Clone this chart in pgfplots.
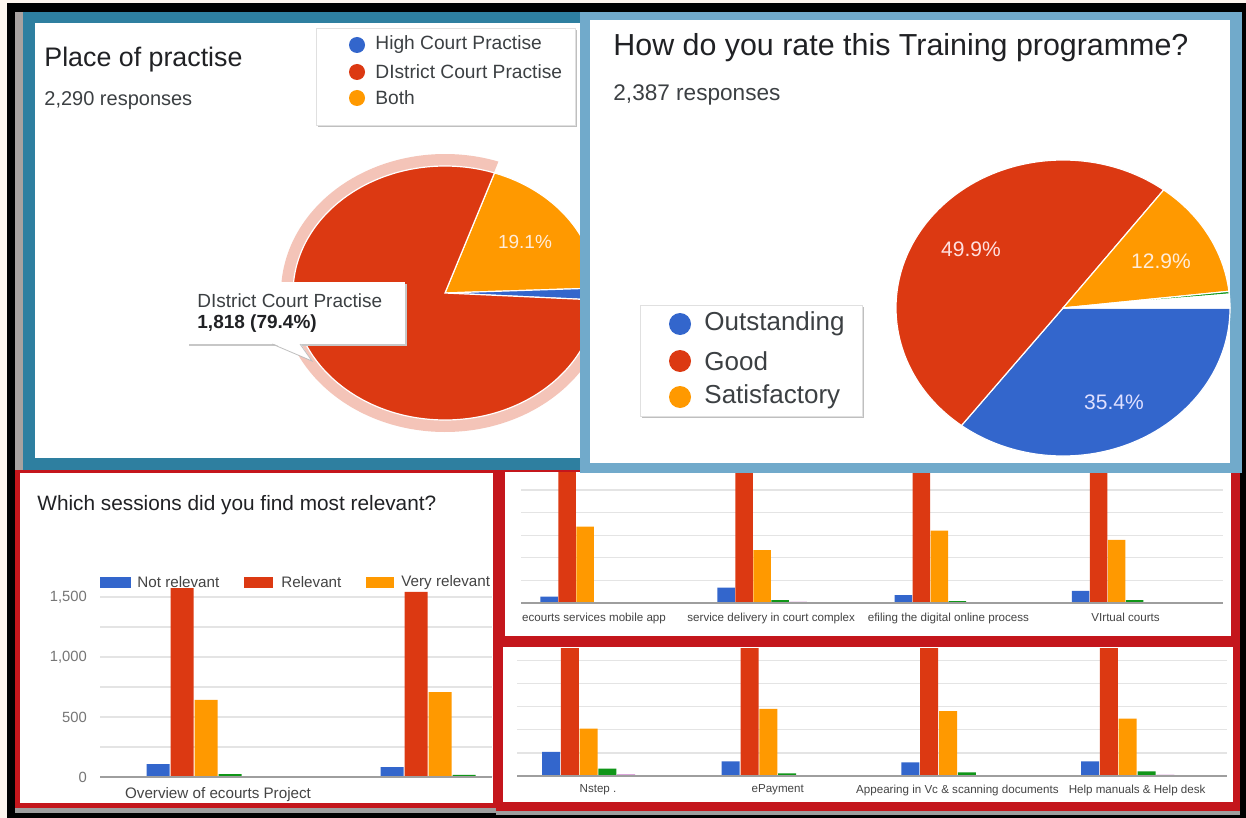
\documentclass[border=0pt]{standalone}
\usepackage{pgfplots}
\pgfplotsset{compat=1.18}
\usepackage{pgfplotstable}
\usepackage{fontspec}
\setmainfont{Liberation Sans}
\definecolor{gblue}{HTML}{3366CC}
\definecolor{gred}{HTML}{DC3912}
\definecolor{gorange}{HTML}{FF9900}
\definecolor{ggreen}{HTML}{109618}
\definecolor{gpurple}{HTML}{990099}
\definecolor{gteal}{HTML}{0099C6}
\definecolor{cream}{HTML}{FDF5EE}
\definecolor{tealb}{HTML}{2E7FA0}
\definecolor{lblue}{HTML}{71AACB}
\definecolor{redb}{HTML}{C4161C}
\definecolor{halo}{HTML}{F4C4B8}
\definecolor{titc}{HTML}{202124}
\definecolor{subc}{HTML}{3C4043}
\definecolor{gridc}{HTML}{E4E4E4}
\definecolor{basec}{HTML}{9E9E9E}
\definecolor{tickc}{HTML}{757575}
\definecolor{labc}{HTML}{444444}
\definecolor{shad}{HTML}{A8A2A0}
\newcommand{\fs}[1]{\fontsize{#1}{#1}\selectfont}

% Which sessions did you find most relevant? (columns: Not relevant, Relevant, Very relevant, and three small series)
\pgfplotstableread{
x nr r vr g p t
0 108 1575 642 25 5 3
1 83 1542 708 17 5 3
}\dataA
\pgfplotstableread{
x nr r vr g p t
0 70 1560 844 5 3 5
1 170 1560 586 33 12 4
2 88 1560 800 22 4 6
3 133 1560 697 33 5 5
}\dataB
\pgfplotstableread{
x nr r vr g p t
0 260 1550 512 79 14 5
1 159 1550 727 29 8 6
2 148 1550 703 40 6 5
3 159 1550 620 51 12 8
}\dataC

% pie shares (percent)
\def\pBoth{19.1}\def\pHigh{1.5}\def\pDist{79.4}
\def\pOut{35.4}\def\pGood{49.9}\def\pSat{12.9}\def\pFour{0.3}\def\pFive{1.5}
\pgfmathsetmacro\lA{71}
\pgfmathsetmacro\lB{\lA-3.6*\pBoth}
\pgfmathsetmacro\lC{\lB-3.6*\pHigh}
\pgfmathsetmacro\lD{\lC-3.6*\pDist}
\pgfmathsetmacro\rA{0}
\pgfmathsetmacro\rB{\rA-3.6*\pOut}
\pgfmathsetmacro\rC{\rB-3.6*\pGood}
\pgfmathsetmacro\rD{\rC-3.6*\pSat}
\pgfmathsetmacro\rE{\rD-3.6*\pFour}
\pgfmathsetmacro\rF{\rE-3.6*\pFive}

\pgfplotsset{
  gbars/.style={ybar, scale only axis, anchor=south west,
    axis line style={draw=none}, tick style={draw=none},
    ymin=0, ymajorgrids, grid style={color=gridc, line width=0.6pt},
    enlargelimits=false, xtick={0,1,2,3},
    xticklabel style={text=labc}},
  pieax/.style={hide axis, scale only axis, clip=false, anchor=center,
    xmin=-1, xmax=1, ymin=-1, ymax=1}
}
\tikzset{sl/.style={fill=#1, draw=white, line width=0.6pt}}

\begin{document}
\begin{tikzpicture}
\begin{scope}[x=0.5pt,y=-0.5pt]
  \fill[cream] (0,0) rectangle (1246,818);
  \fill[black] (7,3) rectangle (1246,818);
  % bottom-left panel
  \fill[basec] (15,806) rectangle (498,813);
  \fill[redb] (15,469) rectangle (498,808);
  \fill[white] (20,473) rectangle (493,803);
  \node[anchor=west, text=titc, font=\fs{10.4}, inner sep=0] at (37,505) {Which sessions did you find most relevant?};
  \fill[gblue] (100,577) rectangle (131,588);
  \node[anchor=west, text=labc, font=\fs{7.6}, inner sep=0] at (137,582.5) {Not relevant};
  \fill[gred] (244,577) rectangle (273,588);
  \node[anchor=west, text=labc, font=\fs{7.6}, inner sep=0] at (281,582.5) {Relevant};
  \fill[gorange] (366,577) rectangle (394,588);
  \node[anchor=west, text=labc, font=\fs{7.6}, inner sep=0] at (401,582.5) {Very relevant};
\end{scope}

\begin{axis}[gbars, at={(50pt,-388.5pt)}, width=196pt, height=99pt,
  xmin=-0.5043, xmax=1.1709, ymax=1650, bar width=11.5pt,
  ytick={0,500,1000,1500}, yticklabels={0,500,{1,000},{1,500}},
  minor ytick={250,750,1250}, yminorgrids, minor grid style={color=gridc, line width=0.6pt},
  yticklabel style={font=\fs{7.4}, text=tickc, xshift=-3pt},
  xticklabels={Overview of ecourts Project,{}}, xticklabel style={font=\fs{7.6}, yshift=2.5pt}]
\addplot[fill=gblue, draw=none, bar shift=-30pt] table[x=x,y=nr]{\dataA};
\addplot[fill=gred, draw=none, bar shift=-18pt] table[x=x,y=r]{\dataA};
\addplot[fill=gorange, draw=none, bar shift=-6pt] table[x=x,y=vr]{\dataA};
\addplot[fill=ggreen, draw=none, bar shift=6pt] table[x=x,y=g]{\dataA};
\addplot[fill=gpurple, draw=none, bar shift=18pt] table[x=x,y=p]{\dataA};
\addplot[fill=gteal, draw=none, bar shift=30pt] table[x=x,y=t]{\dataA};
\draw[basec, line width=0.7pt] (rel axis cs:0,0) -- (rel axis cs:1,0);
\end{axis}

\begin{scope}[x=0.5pt,y=-0.5pt]
  \fill[redb] (496,469) rectangle (1240,644);
  \fill[white] (505,472) rectangle (1231,636);
\end{scope}
\begin{axis}[gbars, at={(260.5pt,-301.5pt)}, width=351pt, height=65.5pt,
  xmin=-0.412, xmax=3.5497, ymax=1449, bar width=8.75pt,
  ytick={250,500,750,1000,1250}, yticklabels={},
  xticklabels={ecourts services mobile app, service delivery in court complex, efiling the digital online process, VIrtual courts},
  xticklabel style={font=\fs{5.8}, yshift=3pt}]
\addplot[fill=gblue, draw=none, bar shift=-22.5pt] table[x=x,y=nr]{\dataB};
\addplot[fill=gred, draw=none, bar shift=-13.5pt] table[x=x,y=r]{\dataB};
\addplot[fill=gorange, draw=none, bar shift=-4.5pt] table[x=x,y=vr]{\dataB};
\addplot[fill=ggreen, draw=none, bar shift=4.5pt] table[x=x,y=g]{\dataB};
\addplot[fill=gpurple, draw=none, bar shift=13.5pt] table[x=x,y=p]{\dataB};
\addplot[fill=gteal, draw=none, bar shift=22.5pt] table[x=x,y=t]{\dataB};
\draw[basec, line width=0.7pt] (rel axis cs:0,0) -- (rel axis cs:1,0);
\end{axis}

\begin{scope}[x=0.5pt,y=-0.5pt]
  \fill[basec] (496,809) rectangle (1240,815);
  \fill[redb] (496,640) rectangle (1240,811);
  \fill[white] (503,647) rectangle (1233,802);
\end{scope}
\begin{axis}[gbars, at={(258.5pt,-388pt)}, width=355pt, height=64pt,
  xmin=-0.4508, xmax=3.5003, ymax=1385, bar width=9pt,
  ytick={250,500,750,1000,1250}, yticklabels={},
  xticklabels={Nstep ., ePayment, Appearing in Vc \& scanning documents, Help manuals \& Help desk},
  xticklabel style={font=\fs{5.8}, yshift=3.5pt}]
\addplot[fill=gblue, draw=none, bar shift=-23.5pt] table[x=x,y=nr]{\dataC};
\addplot[fill=gred, draw=none, bar shift=-14.1pt] table[x=x,y=r]{\dataC};
\addplot[fill=gorange, draw=none, bar shift=-4.7pt] table[x=x,y=vr]{\dataC};
\addplot[fill=ggreen, draw=none, bar shift=4.7pt] table[x=x,y=g]{\dataC};
\addplot[fill=gpurple, draw=none, bar shift=14.1pt] table[x=x,y=p]{\dataC};
\addplot[fill=gteal, draw=none, bar shift=23.5pt] table[x=x,y=t]{\dataC};
\draw[basec, line width=0.7pt] (rel axis cs:0,0) -- (rel axis cs:1,0);
\end{axis}

% top-left panel
\begin{scope}[x=0.5pt,y=-0.5pt]
  \fill[shad] (15,12) rectangle (23,470);
  \fill[tealb] (23,12) rectangle (585,470);
  \fill[white] (35,23) rectangle (580,458);
  \node[anchor=west, text=titc, font=\fs{13.4}, inner sep=0] at (44,60) {Place of practise};
  \node[anchor=west, text=subc, font=\fs{10}, inner sep=0] at (44,101) {2,290 responses};
  \fill[black!25] (318,30) rectangle (577,127);
  \fill[white] (316,28) rectangle (575,125);
  \draw[black!12] (316,28) rectangle (575,125);
  \fill[gblue] (357,45) circle[radius=8];
  \fill[gred] (357,72) circle[radius=8];
  \fill[gorange] (357,98) circle[radius=8];
  \node[anchor=west, text=subc, font=\fs{9.6}, inner sep=0] at (375,45) {High Court Practise};
  \node[anchor=west, text=subc, font=\fs{9.6}, inner sep=0] at (375,72) {DIstrict Court Practise};
  \node[anchor=west, text=subc, font=\fs{9.6}, inner sep=0] at (375,98) {Both};
\end{scope}
\begin{axis}[pieax, at={(222.5pt,-146.5pt)}, width=152pt, height=127pt]
\fill[halo] (axis cs:0,0) -- ++(\lC:82pt and 69.5pt) arc[start angle=\lC, end angle=\lD, x radius=82pt, y radius=69.5pt] -- cycle;
\fill[sl=gorange] (axis cs:0,0) -- ++(\lA:76pt and 63.5pt) arc[start angle=\lA, end angle=\lB, x radius=76pt, y radius=63.5pt] -- cycle;
\fill[sl=gblue] (axis cs:0,0) -- ++(\lB:76pt and 63.5pt) arc[start angle=\lB, end angle=\lC, x radius=76pt, y radius=63.5pt] -- cycle;
\fill[sl=gred] (axis cs:0,0) -- ++(\lC:76pt and 63.5pt) arc[start angle=\lC, end angle=\lD, x radius=76pt, y radius=63.5pt] -- cycle;
\end{axis}
\begin{scope}[x=0.5pt,y=-0.5pt]
  \node[text=white!85!orange, font=\fs{9.5}] at (525,242) {19.1\%};
  \fill[black!22] (189,284) rectangle (407,346);
  \fill[white] (187,282) rectangle (405,344);
  \fill[white] (272,343) -- (312,361) -- (300,343) -- cycle;
  \draw[black!25] (272,344) -- (312,361) -- (300,344);
  \node[anchor=west, text=subc, font=\fs{9.5}, inner sep=0] at (197,301) {DIstrict Court Practise};
  \node[anchor=west, text=titc, font=\fs{9.5}\bfseries, inner sep=0] at (197,324) {1,818 (79.4\%)};
\end{scope}

% top-right panel
\begin{scope}[x=0.5pt,y=-0.5pt]
  \fill[lblue] (580,12) rectangle (1242,473);
  \fill[white] (590,20) rectangle (1230,463);
  \node[anchor=west, text=titc, font=\fs{15.2}, inner sep=0] at (613,48) {How do you rate this Training programme?};
  \node[anchor=west, text=subc, font=\fs{11.3}, inner sep=0] at (613,95) {2,387 responses};
  \fill[black!25] (642,307) rectangle (864,418);
  \fill[white] (640,305) rectangle (862,416);
  \draw[black!12] (640,305) rectangle (862,416);
  \fill[gblue] (680,324) circle[radius=11];
  \fill[gred] (680,361) circle[radius=11];
  \fill[gorange] (680,397) circle[radius=11];
  \node[anchor=west, text=subc, font=\fs{13}, inner sep=0] at (704,324) {Outstanding};
  \node[anchor=west, text=subc, font=\fs{13}, inner sep=0] at (704,361) {Good};
  \node[anchor=west, text=subc, font=\fs{13}, inner sep=0] at (704,397) {Satisfactory};
\end{scope}
\begin{axis}[pieax, at={(531.5pt,-154pt)}, width=167pt, height=148pt]
\fill[sl=gblue] (axis cs:0,0) -- ++(\rA:83.5pt and 74pt) arc[start angle=\rA, end angle=\rB, x radius=83.5pt, y radius=74pt] -- cycle;
\fill[sl=gred] (axis cs:0,0) -- ++(\rB:83.5pt and 74pt) arc[start angle=\rB, end angle=\rC, x radius=83.5pt, y radius=74pt] -- cycle;
\fill[sl=gorange] (axis cs:0,0) -- ++(\rC:83.5pt and 74pt) arc[start angle=\rC, end angle=\rD, x radius=83.5pt, y radius=74pt] -- cycle;
\fill[sl=ggreen] (axis cs:0,0) -- ++(\rD:83.5pt and 74pt) arc[start angle=\rD, end angle=\rE, x radius=83.5pt, y radius=74pt] -- cycle;
\fill[sl=white] (axis cs:0,0) -- ++(\rE:83.5pt and 74pt) arc[start angle=\rE, end angle=\rF, x radius=83.5pt, y radius=74pt] -- cycle;
\end{axis}
\begin{scope}[x=0.5pt,y=-0.5pt]
  \node[text=white!88!red, font=\fs{10.5}] at (971,249) {49.9\%};
  \node[text=white!85!orange, font=\fs{10.5}] at (1161,261) {12.9\%};
  \node[text=white!88!blue, font=\fs{10.5}] at (1114,402) {35.4\%};
\end{scope}
\end{tikzpicture}
\end{document}
